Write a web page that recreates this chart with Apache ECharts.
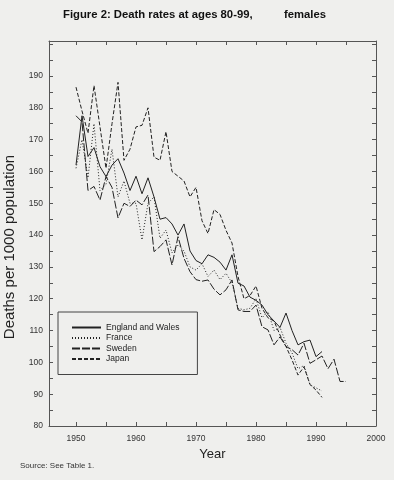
<!DOCTYPE html>
<html><head><meta charset="utf-8">
<script src="https://cdn.jsdelivr.net/npm/echarts@6/dist/echarts.min.js"></script>
<style>html,body{margin:0;padding:0;background:#efefed;}#c{width:394px;height:480px;}</style>
</head><body><div id="c"></div>
<script>
const yearsA = [];
for (let y = 1950; y <= 1991; y++) yearsA.push(y);
const yearsSweden = [];
for (let y = 1950; y <= 1995; y++) yearsSweden.push(y);

const englandWales = [162,177.5,164.7,167.5,161.5,158.4,162,164,159.5,154,158.5,153,158,152,145,145.5,143.5,140,143.5,135,132,131,133.8,133,131.5,129,133.8,124.9,124,120.5,119.5,118,115,113,111,115.5,110,105.5,106.5,107,101.8,103.4];
const france = [161,170,158,175,154,156,167,152,157,150,150,138.5,150,152,139,141.6,134.4,137,135,130,129,131,127,129,126,128,125,117,116.5,117,120,114,116,110,111,106,103,98,99,93,92,91];
const sweden = [177.5,175.6,154,155.3,151,158.4,155,145.4,150,149,151,149.5,152.6,134.8,136.4,138.5,130.6,139.5,132.7,128.5,126,125.5,125.9,123,121.2,122.8,125.9,116.5,116,116,118,111.2,110.2,105.5,108,105,104,102.3,106,99.7,100.8,102,98,101,94,94];
const japan = [186.5,179,172,187,174,161,175,188,163.5,167,174,174.5,180,164.5,163.5,172.5,160,158.5,157,152,155,144.5,140.5,148,146.5,141.5,137.5,127,120,121,124,117,114,113,108.6,105,100.8,96,98.6,93,91.3,89];

const xLabels = [1950,1960,1970,1980,1990,2000];
const xTicks = [1950,1955,1960,1965,1970,1975,1980,1985,1990,1995,2000];
const yLabels = [80,90,100,110,120,130,140,150,160,170,180,190];
const yTicks = [];
for (let v = 80; v <= 200; v += 5) yTicks.push(v);

const pair = (xs, ys) => xs.map((x, i) => [x, ys[i]]);
const ink = '#222';
const font = 'Liberation Sans, Arial, sans-serif';

const chart = echarts.init(document.getElementById('c'), null, {renderer: 'canvas'});
const axisBase = {
  type: 'value',
  splitLine: {show: false},
  axisLine: {show: true, lineStyle: {color: '#555', width: 1}},
};
chart.setOption({
  backgroundColor: '#efefed',
  animation: false,
  title: [
    {text: 'Figure 2: Death rates at ages 80-99,', left: 63, top: 9, padding: 0,
     textStyle: {fontFamily: font, fontSize: 11.3, fontWeight: 'bold', color: '#111'}},
    {text: 'females', left: 284, top: 9, padding: 0,
     textStyle: {fontFamily: font, fontSize: 11.3, fontWeight: 'bold', color: '#111'}},
    {text: 'Source: See Table 1.', left: 20, top: 462, padding: 0,
     textStyle: {fontFamily: font, fontSize: 8, fontWeight: 'normal', color: '#333'}}
  ],
  graphic: [
    {type: 'text', x: 10, y: 247, rotation: Math.PI / 2,
     style: {text: 'Deaths per 1000 population', fontFamily: font, fontSize: 15, fill: '#222',
             align: 'center', verticalAlign: 'middle'}}
  ],
  grid: {left: 49, right: 18, top: 41, bottom: 54, show: false, outerBoundsMode: 'none', containLabel: false},
  legend: {
    orient: 'vertical', left: 58, top: 312,
    padding: [11, 18, 11, 13], itemGap: 1.5,
    itemWidth: 29, itemHeight: 9,
    borderColor: '#444', borderWidth: 1,
    itemStyle: {opacity: 0},
    textStyle: {fontFamily: font, fontSize: 8.5, color: '#222'},
    data: ['England and Wales', 'France', 'Sweden', 'Japan']
  },
  xAxis: [
    Object.assign({}, axisBase, {
      min: 1945.5, max: 2000, position: 'bottom',
      name: 'Year', nameLocation: 'middle', nameGap: 22,
      nameTextStyle: {fontFamily: font, fontSize: 13, color: '#222'},
      axisTick: {show: true, inside: true, length: 4, customValues: xTicks, lineStyle: {color: '#555'}},
      axisLabel: {customValues: xLabels, formatter: v => String(v), fontFamily: font, fontSize: 8.5, color: '#333', margin: 8}
    }),
    Object.assign({}, axisBase, {
      min: 1945.5, max: 2000, position: 'top',
      axisTick: {show: true, inside: true, length: 4, customValues: xTicks, lineStyle: {color: '#555'}},
      axisLabel: {show: false}
    })
  ],
  yAxis: [
    Object.assign({}, axisBase, {
      min: 80, max: 201, position: 'left',
      axisTick: {show: true, inside: true, length: 4, customValues: yTicks, lineStyle: {color: '#555'}},
      axisLabel: {customValues: yLabels, formatter: v => String(v), fontFamily: font, fontSize: 8.5, color: '#333', margin: 6}
    }),
    Object.assign({}, axisBase, {
      min: 80, max: 201, position: 'right',
      axisTick: {show: true, inside: true, length: 4, customValues: yTicks, lineStyle: {color: '#555'}},
      axisLabel: {show: false}
    })
  ],
  series: [
    {name: 'England and Wales', type: 'line', data: pair(yearsA, englandWales), symbol: 'none',
     lineStyle: {color: ink, width: 1, type: 'solid'}, itemStyle: {color: ink}},
    {name: 'France', type: 'line', data: pair(yearsA, france), symbol: 'none',
     lineStyle: {color: ink, width: 1, type: [1, 2]}, itemStyle: {color: ink}},
    {name: 'Sweden', type: 'line', data: pair(yearsSweden, sweden), symbol: 'none',
     lineStyle: {color: ink, width: 1, type: [8, 2]}, itemStyle: {color: ink}},
    {name: 'Japan', type: 'line', data: pair(yearsA, japan), symbol: 'none',
     lineStyle: {color: ink, width: 1, type: [4, 2]}, itemStyle: {color: ink}}
  ]
});
</script></body></html>
